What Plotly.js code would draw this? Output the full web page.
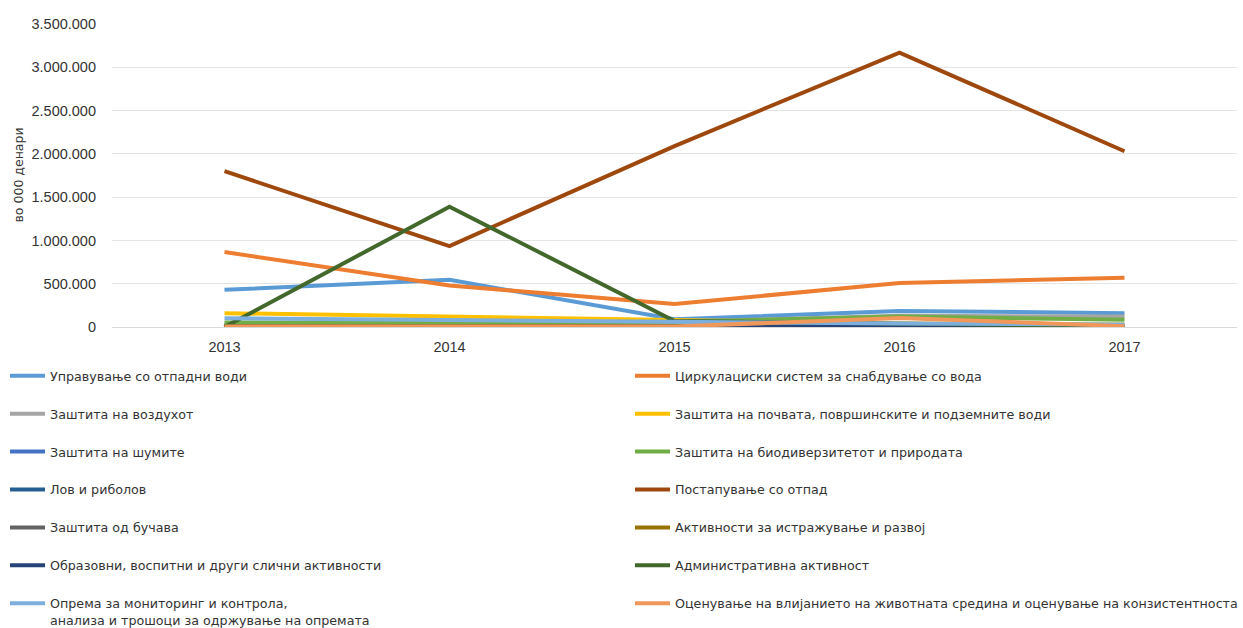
<!DOCTYPE html>
<html>
<head>
<meta charset="utf-8">
<script src="https://cdn.plot.ly/plotly-3.0.1.min.js"></script>
<style>html,body{margin:0;padding:0;background:#fff;}#chart{width:1243px;height:628px;}</style>
</head>
<body>
<div id="chart"></div>
<script>
var years = ['2013', '2014', '2015', '2016', '2017'];

var seriesNames = [
  'Управување со отпадни води',
  'Циркулациски систем за снабдување со вода',
  'Заштита на воздухот',
  'Заштита на почвата, површинските и подземните води',
  'Заштита на шумите',
  'Заштита на биодиверзитетот и природата',
  'Лов и риболов',
  'Постапување со отпад',
  'Заштита од бучава',
  'Активности за истражување и развој',
  'Образовни, воспитни и други слични активности',
  'Административна активност',
  'Опрема за мониторинг и контрола,<br>анализа и трошоци за одржување на опремата',
  'Оценување на влијанието на животната средина и оценување на конзистентноста'
];

var wasteWater   = [430000, 545000, 90000, 185000, 160000];
var waterSupply  = [866000, 480000, 265000, 508000, 570000];
var air          = [30000, 50000, 60000, 130000, 120000];
var soilWater    = [160000, 115000, 80000, 40000, 30000];
var forests      = [12000, 9000, 8000, 11000, 10000];
var biodiversity = [52000, 45000, 60000, 120000, 85000];
var hunting      = [3000, 4000, 2000, 3000, 2000];
var waste        = [1800000, 935000, 2090000, 3170000, 2030000];
var noise        = [5000, 6000, 4000, 5000, 4000];
var research     = [8000, 7000, 9000, 8000, 6000];
var education    = [2000, 3000, 2000, 2000, 1000];
var admin        = [0, 1390000, 70000, 45000, 10000];
var monitoring   = [100000, 80000, 58000, 40000, 30000];
var assessment   = [5000, 10000, 5000, 105000, 10000];

var yAxisTitle = 'во 000 денари';

var seriesValues = [wasteWater, waterSupply, air, soilWater, forests, biodiversity,
  hunting, waste, noise, research, education, admin, monitoring, assessment];

var colors = ['#5B9BD5', '#ED7D31', '#A5A5A5', '#FFC000', '#4472C4', '#70AD47',
  '#255E91', '#9E480E', '#636363', '#997300', '#264478', '#43682B', '#7CAFDD', '#F1975A'];

var traces = seriesNames.map(function (name, i) {
  return {
    type: 'scatter',
    mode: 'lines',
    x: years,
    y: seriesValues[i],
    name: name,
    legendgroup: 'g' + i,
    legend: (i % 2 === 0) ? 'legend' : 'legend2',
    line: {color: colors[i], width: 4},
    hoverinfo: 'x+y+name'
  };
});

var textColor = '#333333';
var legendFont = {family: 'DejaVu Sans, Arial, sans-serif', size: 12.7, color: textColor};
var tickFont = {family: 'Liberation Sans, Arial, sans-serif', size: 14.5, color: textColor};

var plotLeft = 112, plotRight = 1237;

var layout = {
  width: 1243,
  height: 628,
  margin: {l: plotLeft, r: 1243 - plotRight, t: 24, b: 301, autoexpand: false},
  paper_bgcolor: '#ffffff',
  plot_bgcolor: '#ffffff',
  separators: ',.',
  showlegend: true,
  font: {family: 'DejaVu Sans, Arial, sans-serif', size: 12, color: textColor},
  xaxis: {
    type: 'category',
    range: [-0.5, 4.5],
    showgrid: false,
    showline: false,
    zeroline: false,
    ticks: '',
    automargin: false,
    ticklabelstandoff: 9,
    tickfont: tickFont
  },
  yaxis: {
    range: [0, 3500000],
    dtick: 500000,
    tickformat: ',d',
    showgrid: true,
    gridcolor: '#e4e4e4',
    gridwidth: 1,
    zeroline: true,
    zerolinecolor: '#d9d9d9',
    zerolinewidth: 1,
    showline: false,
    ticks: '',
    automargin: false,
    ticklabelstandoff: 15,
    tickfont: tickFont
  },
  annotations: [{
    text: yAxisTitle,
    xref: 'paper', yref: 'paper',
    x: (18 - plotLeft) / (plotRight - plotLeft), y: 0.5,
    xanchor: 'center', yanchor: 'middle',
    textangle: -90,
    showarrow: false,
    font: {family: 'DejaVu Sans, Arial, sans-serif', size: 12.5, color: textColor}
  }],
  legend: {
    xref: 'container', yref: 'container',
    x: 5 / 1243, xanchor: 'left',
    y: 1 - 361 / 628, yanchor: 'top',
    orientation: 'v',
    tracegroupgap: 18.4,
    itemwidth: 35,
    valign: 'top',
    font: legendFont,
    bgcolor: 'rgba(0,0,0,0)'
  },
  legend2: {
    xref: 'container', yref: 'container',
    x: 630 / 1243, xanchor: 'left',
    y: 1 - 361 / 628, yanchor: 'top',
    orientation: 'v',
    tracegroupgap: 18.4,
    itemwidth: 35,
    valign: 'top',
    font: legendFont,
    bgcolor: 'rgba(0,0,0,0)'
  }
};

Plotly.newPlot('chart', traces, layout, {displayModeBar: false, staticPlot: true});
</script>
</body>
</html>
